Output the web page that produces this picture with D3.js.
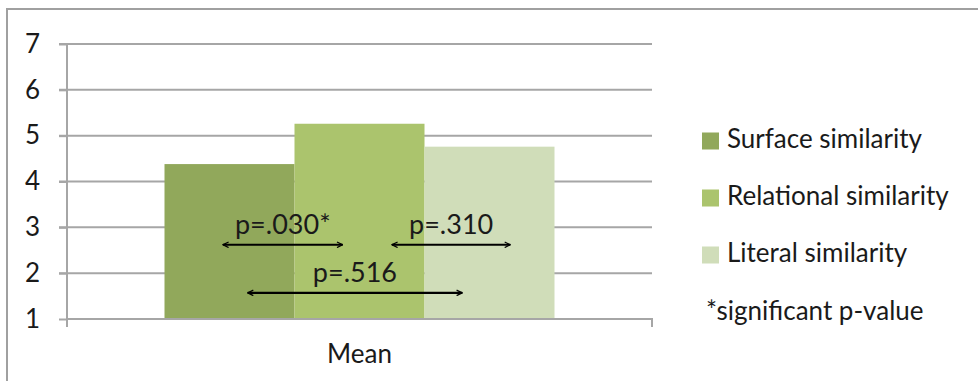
<!DOCTYPE html>
<html><head><meta charset="utf-8">
<script src="https://cdn.jsdelivr.net/npm/d3@7"></script>
<style>body{margin:0;background:#fff}svg{display:block}text{font-family:Lato,"Noto Sans",sans-serif;fill:#1a1a1a}</style>
</head><body><svg id="c" width="978" height="381"></svg>
<script>
const categories = ["Mean"];
const series = ["Surface similarity","Relational similarity","Literal similarity"];
const values = [4.38, 5.26, 4.76];
const colors = ["#91a85b","#abc46d","#d0ddb9"];
const yTicks = [1,2,3,4,5,6,7];
const note = "*significant p-value";
// comparisons: from series, to series, label
const compFrom = [0, 1, 0];
const compTo = [1, 2, 2];
const compLabels = ["p=.030*","p=.310","p=.516"];
const compY = [2.62, 2.62, 1.57];
const compFromFrac = [0.45, 0.75, 0.64];
const compToFrac = [0.37, 0.66, 0.29];

const svg = d3.select("#c");
// outer frame
svg.append("path").attr("d","M7,381 V9 H978").attr("fill","none").attr("stroke","#a0a0a0").attr("stroke-width",2);

const L=67, R=652, T=44, B=319;
const y = d3.scaleLinear().domain([1,7]).range([B,T]);
const x0 = d3.scaleBand().domain(categories).range([L,R]).paddingInner(0).paddingOuter(0.25);
const x1 = d3.scaleBand().domain(d3.range(series.length)).range([0,x0.bandwidth()]);

// gridlines
svg.append("g").selectAll("line").data(yTicks.slice(1)).join("line")
  .attr("x1",L-8).attr("x2",R).attr("y1",d=>y(d)).attr("y2",d=>y(d))
  .attr("stroke","#a6a6a6").attr("stroke-width",2);

// bars
const g = svg.append("g");
categories.forEach(c=>{
  g.selectAll("rect.b").data(values).join("rect")
   .attr("x",(d,i)=>x0(c)+x1(i)).attr("width",x1.bandwidth())
   .attr("y",d=>y(d)).attr("height",d=>y(1)-y(d)).attr("fill",(d,i)=>colors[i]);
});

// y axis
const yAxis = d3.axisLeft(y).tickValues(yTicks).tickSize(8).tickPadding(19).tickFormat(d3.format("d"));
const ya = svg.append("g").attr("transform",`translate(${L},0)`).call(yAxis);
ya.select(".domain").attr("stroke","#a6a6a6").attr("stroke-width",2).attr("d",`M0,${T}V${B+6}`);
ya.selectAll(".tick line").attr("stroke","#a6a6a6").attr("stroke-width",2);
ya.selectAll(".tick text").style("font-size","26px").attr("fill","#1a1a1a").style("font-family","Lato,'Noto Sans',sans-serif");

// x axis
svg.append("path").attr("d",`M${L},${B+8}V${B}H${R}V${B+8}`).attr("fill","none").attr("stroke","#a6a6a6").attr("stroke-width",2);
svg.append("g").selectAll("text").data(categories).join("text")
  .attr("x",d=>x0(d)+x0.bandwidth()/2).attr("y",363).attr("text-anchor","middle")
  .style("font-size","26px").text(d=>d);

// comparisons
const defs = svg.append("defs");
defs.append("marker").attr("id","ah").attr("viewBox","0 0 10 10").attr("refX",9).attr("refY",5)
  .attr("markerWidth",7).attr("markerHeight",7).attr("markerUnits","userSpaceOnUse").attr("orient","auto-start-reverse")
  .append("path").attr("d","M1,1 L9,5 L1,9").attr("fill","none").attr("stroke","#000").attr("stroke-width",1.8);
const cat = categories[0];
const bx = i => x0(cat)+x1(i);
const ca = svg.append("g");
compLabels.forEach((lab,k)=>{
  const xa = bx(compFrom[k]) + compFromFrac[k]*x1.bandwidth();
  const xb = bx(compTo[k]) + compToFrac[k]*x1.bandwidth();
  const yy = y(compY[k]);
  ca.append("line").attr("x1",xa).attr("x2",xb).attr("y1",yy).attr("y2",yy)
    .attr("stroke","#000").attr("stroke-width",2.2)
    .attr("marker-start","url(#ah)").attr("marker-end","url(#ah)");
  ca.append("text").attr("x",(xa+xb)/2).attr("y",yy-11).attr("text-anchor","middle")
    .style("font-size","27px").text(lab);
});

// legend
const lg = svg.append("g");
series.forEach((s,i)=>{
  const cy = 141 + i*57;
  lg.append("rect").attr("x",702).attr("y",cy-8.5).attr("width",17).attr("height",17).attr("fill",colors[i]);
  lg.append("text").attr("x",727).attr("y",cy+7).style("font-size",  "26px").text(s);
});
lg.append("text").attr("x",706).attr("y",320).style("font-size","26px").attr("fill","#333").text(note);
</script></body></html>
